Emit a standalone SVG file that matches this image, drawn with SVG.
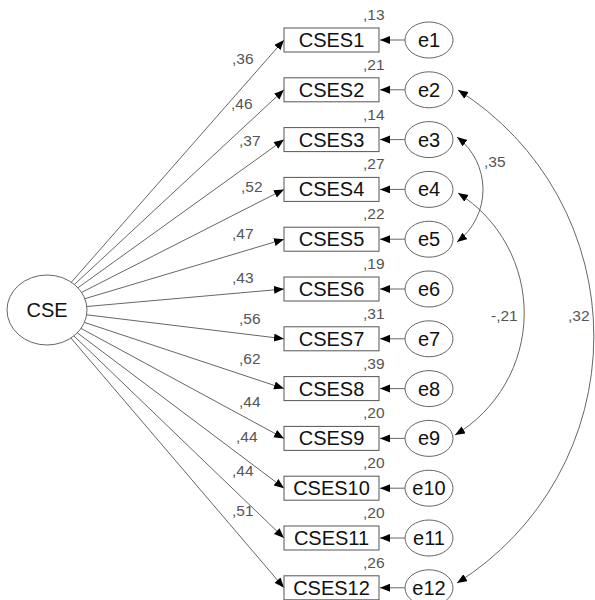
<svg xmlns="http://www.w3.org/2000/svg" width="595" height="600" viewBox="0 0 595 600">
<style>
.bx{fill:#fff;stroke:#555;stroke-width:1}
.el{fill:#fff;stroke:#666;stroke-width:1}
.t{font-family:"Liberation Sans",Arial,sans-serif;font-size:20px;fill:#111;text-anchor:middle}
.n{font-family:"Liberation Sans",Arial,sans-serif;font-size:15.5px;fill:#555}
.ln{fill:none;stroke:#666;stroke-width:1}
.ar{marker-end:url(#ah)}
.cv{fill:none;stroke:#666;stroke-width:1;marker-start:url(#ah2);marker-end:url(#ah2)}
</style>
<defs>
<marker id="ah" markerUnits="userSpaceOnUse" markerWidth="11" markerHeight="9" refX="10" refY="4" orient="auto"><path d="M0,0 L10,4 L0,8 z" fill="#000"/></marker>
<marker id="ah2" markerUnits="userSpaceOnUse" markerWidth="11" markerHeight="9" refX="10" refY="4" orient="auto-start-reverse"><path d="M0,0 L10,4 L0,8 z" fill="#000"/></marker>
</defs>
<rect width="595" height="600" fill="#fff"/>
<g id="connectors">
<line class="ln ar" x1="71.4" y1="282.2" x2="284" y2="40"/>
<line class="ln ar" x1="74.4" y1="284.5" x2="284" y2="89.8"/>
<line class="ln ar" x1="77.9" y1="287.8" x2="284" y2="139.6"/>
<line class="ln ar" x1="81.6" y1="292.4" x2="284" y2="189.4"/>
<line class="ln ar" x1="84.9" y1="298.7" x2="284" y2="239.2"/>
<line class="ln ar" x1="86.8" y1="306.5" x2="284" y2="289"/>
<line class="ln ar" x1="86.6" y1="314.8" x2="284" y2="338.8"/>
<line class="ln ar" x1="84.4" y1="322.4" x2="284" y2="388.6"/>
<line class="ln ar" x1="81.0" y1="328.4" x2="284" y2="438.4"/>
<line class="ln ar" x1="77.3" y1="332.8" x2="284" y2="488.2"/>
<line class="ln ar" x1="73.9" y1="335.9" x2="284" y2="538"/>
<line class="ln ar" x1="70.9" y1="338.0" x2="284" y2="587.8"/>
<line class="ln ar" x1="405" y1="40" x2="380" y2="40"/>
<line class="ln ar" x1="405" y1="89.8" x2="380" y2="89.8"/>
<line class="ln ar" x1="405" y1="139.6" x2="380" y2="139.6"/>
<line class="ln ar" x1="405" y1="189.4" x2="380" y2="189.4"/>
<line class="ln ar" x1="405" y1="239.2" x2="380" y2="239.2"/>
<line class="ln ar" x1="405" y1="289" x2="380" y2="289"/>
<line class="ln ar" x1="405" y1="338.8" x2="380" y2="338.8"/>
<line class="ln ar" x1="405" y1="388.6" x2="380" y2="388.6"/>
<line class="ln ar" x1="405" y1="438.4" x2="380" y2="438.4"/>
<line class="ln ar" x1="405" y1="488.2" x2="380" y2="488.2"/>
<line class="ln ar" x1="405" y1="538" x2="380" y2="538"/>
<line class="ln ar" x1="405" y1="587.8" x2="380" y2="587.8"/>
<path class="cv" d="M457,137 A66,66 0 0 1 457,242"/>
<path class="cv" d="M458,193 A142,142 0 0 1 455,435"/>
<path class="cv" d="M458,90 A291,291 0 0 1 457,583"/>
<text class="n" x="232" y="64">,36</text>
<text class="n" x="231" y="109">,46</text>
<text class="n" x="239" y="146">,37</text>
<text class="n" x="241" y="192">,52</text>
<text class="n" x="232" y="239">,47</text>
<text class="n" x="232" y="283">,43</text>
<text class="n" x="239" y="324">,56</text>
<text class="n" x="239" y="364">,62</text>
<text class="n" x="239" y="407">,44</text>
<text class="n" x="236" y="442">,44</text>
<text class="n" x="232" y="476">,44</text>
<text class="n" x="232" y="516">,51</text>
<text class="n" x="484" y="167">,35</text>
<text class="n" x="491" y="321">-,21</text>
<text class="n" x="568" y="321">,32</text>
</g>
<g id="CSE"><ellipse class="el" cx="47" cy="310" rx="40" ry="35"/><text class="t" x="47" y="317">CSE</text></g>
<g id="CSES1"><rect class="bx" x="284" y="28" width="95" height="24"/><text class="t" x="331.5" y="47">CSES1</text><text class="n" x="363" y="20">,13</text></g>
<g id="CSES2"><rect class="bx" x="284" y="77.8" width="95" height="24"/><text class="t" x="331.5" y="96.8">CSES2</text><text class="n" x="363" y="69.8">,21</text></g>
<g id="CSES3"><rect class="bx" x="284" y="127.6" width="95" height="24"/><text class="t" x="331.5" y="146.6">CSES3</text><text class="n" x="363" y="119.6">,14</text></g>
<g id="CSES4"><rect class="bx" x="284" y="177.4" width="95" height="24"/><text class="t" x="331.5" y="196.4">CSES4</text><text class="n" x="363" y="169.4">,27</text></g>
<g id="CSES5"><rect class="bx" x="284" y="227.2" width="95" height="24"/><text class="t" x="331.5" y="246.2">CSES5</text><text class="n" x="363" y="219.2">,22</text></g>
<g id="CSES6"><rect class="bx" x="284" y="277" width="95" height="24"/><text class="t" x="331.5" y="296">CSES6</text><text class="n" x="363" y="269">,19</text></g>
<g id="CSES7"><rect class="bx" x="284" y="326.8" width="95" height="24"/><text class="t" x="331.5" y="345.8">CSES7</text><text class="n" x="363" y="318.8">,31</text></g>
<g id="CSES8"><rect class="bx" x="284" y="376.6" width="95" height="24"/><text class="t" x="331.5" y="395.6">CSES8</text><text class="n" x="363" y="368.6">,39</text></g>
<g id="CSES9"><rect class="bx" x="284" y="426.4" width="95" height="24"/><text class="t" x="331.5" y="445.4">CSES9</text><text class="n" x="363" y="418.4">,20</text></g>
<g id="CSES10"><rect class="bx" x="284" y="476.2" width="95" height="24"/><text class="t" x="331.5" y="495.2">CSES10</text><text class="n" x="363" y="468.2">,20</text></g>
<g id="CSES11"><rect class="bx" x="284" y="526" width="95" height="24"/><text class="t" x="331.5" y="545">CSES11</text><text class="n" x="363" y="518">,20</text></g>
<g id="CSES12"><rect class="bx" x="284" y="575.8" width="95" height="24"/><text class="t" x="331.5" y="594.8">CSES12</text><text class="n" x="363" y="567.8">,26</text></g>
<g id="e1"><ellipse class="el" cx="429" cy="40" rx="24" ry="18"/><text class="t" x="429" y="47">e1</text></g>
<g id="e2"><ellipse class="el" cx="429" cy="89.8" rx="24" ry="18"/><text class="t" x="429" y="96.8">e2</text></g>
<g id="e3"><ellipse class="el" cx="429" cy="139.6" rx="24" ry="18"/><text class="t" x="429" y="146.6">e3</text></g>
<g id="e4"><ellipse class="el" cx="429" cy="189.4" rx="24" ry="18"/><text class="t" x="429" y="196.4">e4</text></g>
<g id="e5"><ellipse class="el" cx="429" cy="239.2" rx="24" ry="18"/><text class="t" x="429" y="246.2">e5</text></g>
<g id="e6"><ellipse class="el" cx="429" cy="289" rx="24" ry="18"/><text class="t" x="429" y="296">e6</text></g>
<g id="e7"><ellipse class="el" cx="429" cy="338.8" rx="24" ry="18"/><text class="t" x="429" y="345.8">e7</text></g>
<g id="e8"><ellipse class="el" cx="429" cy="388.6" rx="24" ry="18"/><text class="t" x="429" y="395.6">e8</text></g>
<g id="e9"><ellipse class="el" cx="429" cy="438.4" rx="24" ry="18"/><text class="t" x="429" y="445.4">e9</text></g>
<g id="e10"><ellipse class="el" cx="429" cy="488.2" rx="24" ry="18"/><text class="t" x="429" y="495.2">e10</text></g>
<g id="e11"><ellipse class="el" cx="429" cy="538" rx="24" ry="18"/><text class="t" x="429" y="545">e11</text></g>
<g id="e12"><ellipse class="el" cx="429" cy="587.8" rx="24" ry="18"/><text class="t" x="429" y="594.8">e12</text></g>
</svg>
